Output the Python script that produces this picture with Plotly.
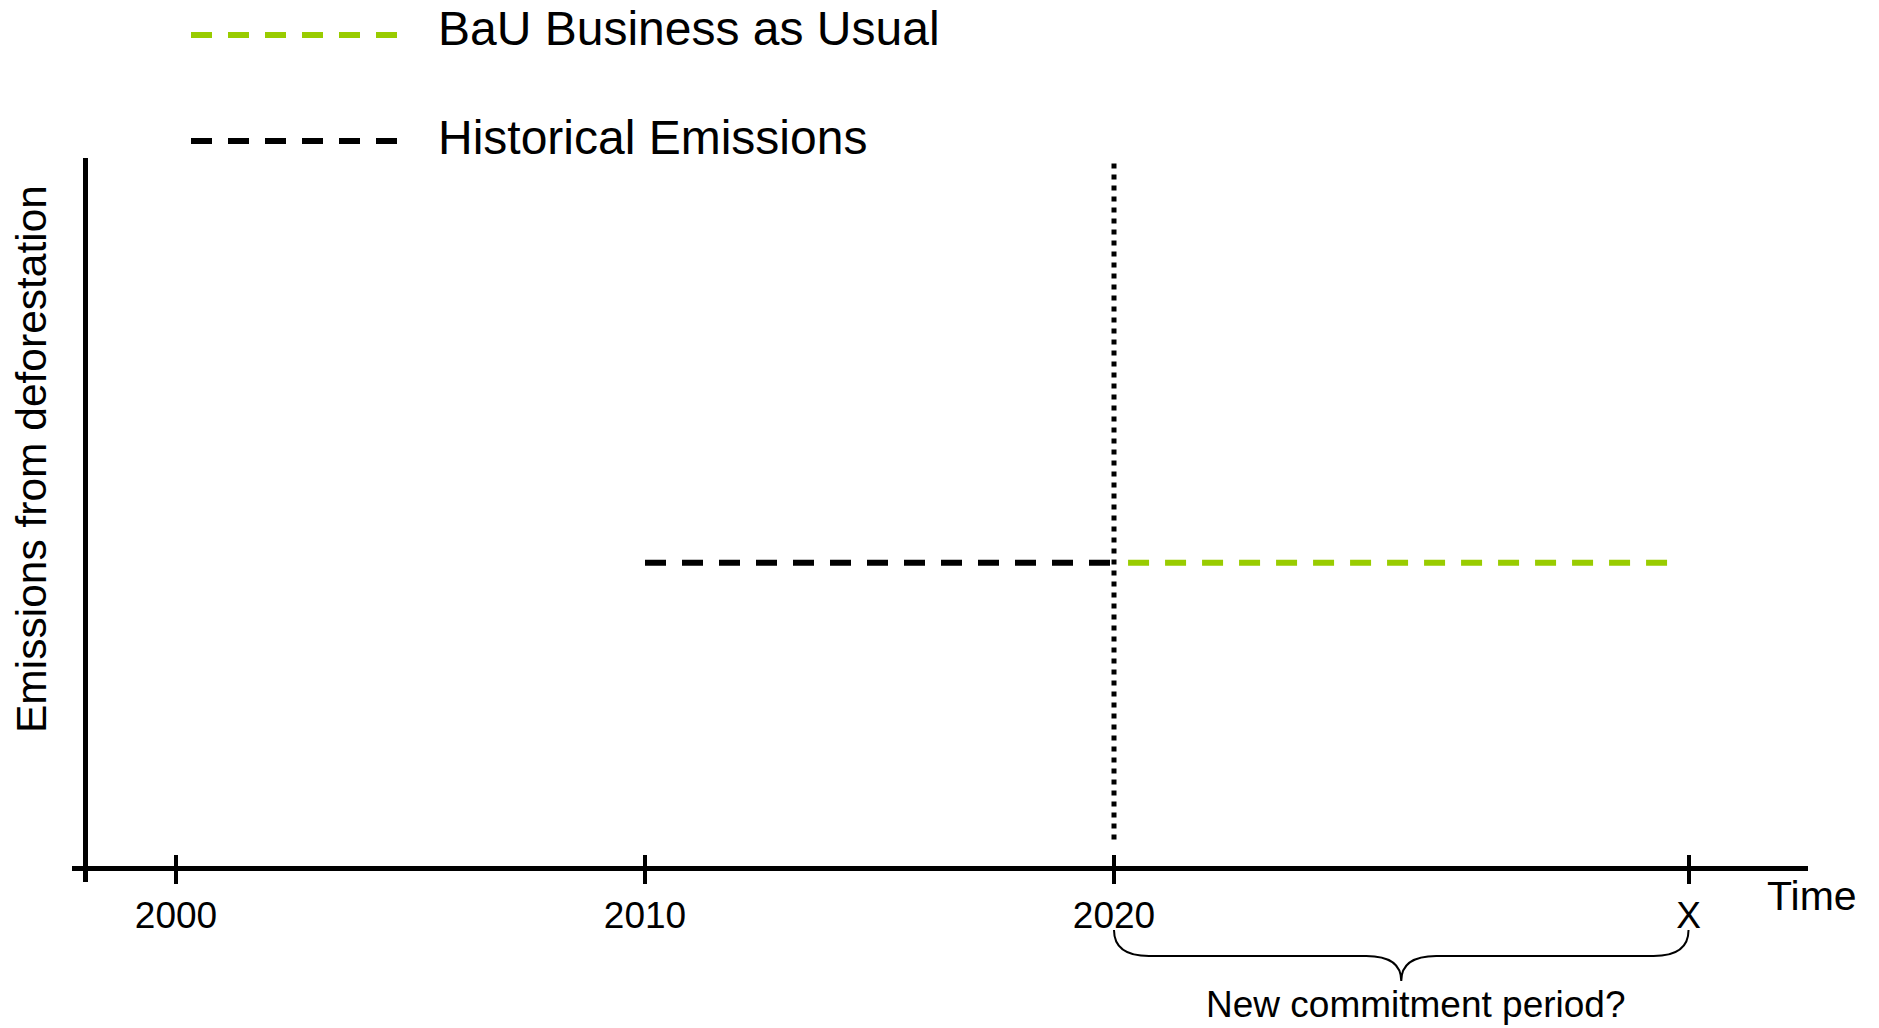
import plotly.graph_objects as go

# ---------------- data ----------------
tick_years = [2000, 2010, 2020, 2032.25]       # last value stands for the unknown end year "X"
tick_labels = ["2000", "2010", "2020", "X"]

hist_x = [2010, 2020]
hist_y = [43, 43]

bau_x = [2020.3, 2032]
bau_y = [43, 43]

divider_year = 2020
divider_y = [4, 100]

series_names = ["BaU Business as Usual", "Historical Emissions"]
series_colors = ["#99CC00", "#000000"]

# ---------------- layout helpers ----------------
W, H = 1879, 1028
ML, MR, MT, MB = 72, 71, 158, 146
PW, PH = W - ML - MR, H - MT - MB
FONT = "Liberation Sans, Arial, sans-serif"
DASH = "21px,16px"


def px_x(p):
    return (p - ML) / PW


def px_y(p):
    return (H - MB - p) / PH


fig = go.Figure()

fig.add_trace(go.Scatter(x=hist_x, y=hist_y, mode="lines", name=series_names[1],
                         line=dict(color=series_colors[1], width=6, dash=DASH),
                         showlegend=False, hoverinfo="skip"))
fig.add_trace(go.Scatter(x=bau_x, y=bau_y, mode="lines", name=series_names[0],
                         line=dict(color=series_colors[0], width=6, dash=DASH),
                         showlegend=False, hoverinfo="skip"))
fig.add_trace(go.Scatter(x=[divider_year, divider_year], y=divider_y, mode="lines",
                         line=dict(color="black", width=5, dash="5px,6px"),
                         showlegend=False, hoverinfo="skip"))
# invisible trace to carry the overlaying axis (inner half of ticks)
fig.add_trace(go.Scatter(x=[tick_years[0]], y=[0], xaxis="x2", mode="markers",
                         marker=dict(opacity=0), showlegend=False, hoverinfo="skip"))

x_axis_px = 868
y_axis_px = 85
xmin = 2000 - (176 - ML) / 46.9
xmax = 2000 + (ML + PW - 176) / 46.9

common_x = dict(range=[xmin, xmax], tickmode="array", tickvals=tick_years,
                anchor="free", position=px_y(x_axis_px), showgrid=False,
                zeroline=False, tickwidth=4, tickcolor="black")

fig.update_layout(
    width=W, height=H,
    margin=dict(l=ML, r=MR, t=MT, b=MB, pad=0),
    paper_bgcolor="white", plot_bgcolor="white",
    font=dict(family=FONT, color="black"),
    xaxis=dict(**common_x, ticktext=tick_labels, ticks="outside", ticklen=13,
               showline=True, linecolor="black", linewidth=5,
               tickfont=dict(size=37, family=FONT, color="black")),
    xaxis2=dict(**common_x, overlaying="x", ticks="inside", ticklen=13,
                showline=False, showticklabels=False),
    yaxis=dict(range=[-(H - MB - x_axis_px) / 7.1, 100], showgrid=False,
               zeroline=False, showticklabels=False, ticks="",
               showline=True, linecolor="black", linewidth=5,
               anchor="free", position=px_x(y_axis_px)),
)

# manual legend (long dashed samples)
legend_rows = [(35, 29), (141, 137)]
for name, color, (ly, ty) in zip(series_names, series_colors, legend_rows):
    fig.add_shape(type="line", xref="paper", yref="paper",
                  x0=px_x(191), x1=px_x(399), y0=px_y(ly), y1=px_y(ly),
                  line=dict(color=color, width=6, dash=DASH))
    fig.add_annotation(text=name, xref="paper", yref="paper",
                       x=px_x(436), y=px_y(ty), xanchor="left", yanchor="middle",
                       showarrow=False, font=dict(size=48, family=FONT, color="black"))

# y-axis title
fig.add_annotation(text="Emissions from deforestation", xref="paper", yref="paper",
                   x=px_x(31), y=px_y(459), textangle=-90, showarrow=False,
                   xanchor="center", yanchor="middle",
                   font=dict(size=42.5, family=FONT, color="black"))

# x-axis title
fig.add_annotation(text="Time", xref="paper", yref="paper",
                   x=px_x(1765), y=px_y(896), xanchor="left", yanchor="middle",
                   showarrow=False, font=dict(size=41, family=FONT, color="black"))

# brace under the new commitment period
b0, b1 = tick_years[2], tick_years[3]
bm = (b0 + b1) / 2
d = 35 / 46.9
yt, ym, yb = px_y(930), px_y(956), px_y(981)
path = (f"M {b0},{yt} Q {b0},{ym} {b0 + d},{ym} L {bm - d},{ym} "
        f"Q {bm},{ym} {bm},{yb} Q {bm},{ym} {bm + d},{ym} "
        f"L {b1 - d},{ym} Q {b1},{ym} {b1},{yt}")
fig.add_shape(type="path", xref="x", yref="paper", path=path,
              line=dict(color="black", width=2))
fig.add_annotation(text="New commitment period?", xref="x", yref="paper",
                   x=bm + 0.3, y=px_y(1004), xanchor="center", yanchor="middle",
                   showarrow=False, font=dict(size=37, family=FONT, color="black"))

fig.write_html("out.html", config={"displayModeBar": False},
               post_script="document.body.style.margin='0';")
